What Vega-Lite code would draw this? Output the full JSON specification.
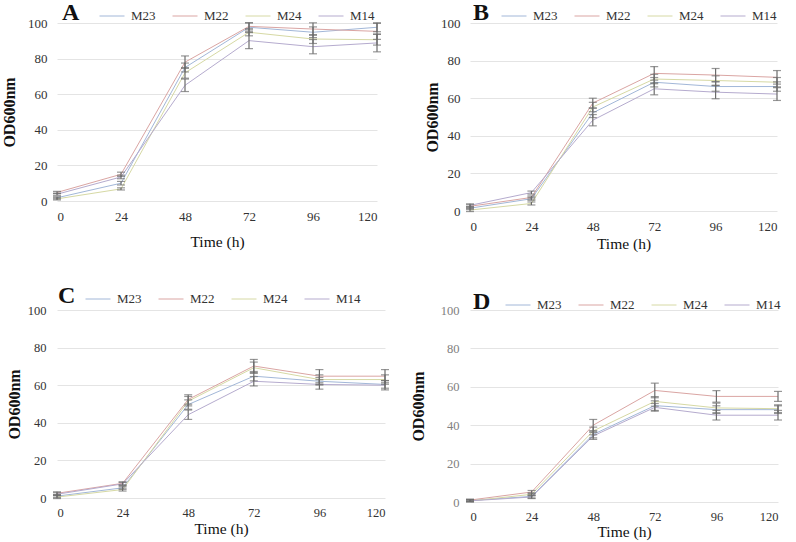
{
  "$schema": "https://vega.github.io/schema/vega-lite/v6.json",
  "padding": {"left": 1, "top": 3, "right": 5, "bottom": 5},
  "background": "white",
  "config": {
    "font": "Liberation Serif",
    "view": {"stroke": null},
    "axis": {"domain": false, "ticks": false, "gridColor": "#e4e4e4", "gridWidth": 1, "labelColor": "#333333", "labelFont": "Liberation Serif", "titleFont": "Liberation Serif", "titleColor": "#111111"},
    "axisX": {"labelFont": "Liberation Serif", "titleFont": "Liberation Serif", "titleFontWeight": "normal", "titleFontSize": 15.5, "gridOpacity": {"condition": {"test": "datum.value === 120", "value": 1}, "value": 0}},
    "axisY": {"labelFont": "Liberation Serif", "titleFont": "Liberation Serif", "titleFontWeight": "bold", "titleFontSize": 16},
    "legend": {"orient": "none", "direction": "horizontal", "columns": 4, "titleOrient": "left", "titleFontSize": 24, "titleFontWeight": "bold", "titleColor": "#111111", "titleFont": "Liberation Serif", "labelFont": "Liberation Serif", "labelFontSize": 13, "labelColor": "#333333", "symbolType": "stroke", "symbolSize": 625, "symbolStrokeWidth": 1, "labelOffset": 6, "columnPadding": 14, "padding": 0}
  },
  "datasets": {
    "growth": [
      {"p":"A","s":"M23","t":0,"od":1.8,"sd":0.6},{"p":"A","s":"M23","t":24,"od":10,"sd":1.0},{"p":"A","s":"M23","t":48,"od":75,"sd":2.5},{"p":"A","s":"M23","t":72,"od":97.6,"sd":2.5},{"p":"A","s":"M23","t":96,"od":94.8,"sd":3},{"p":"A","s":"M23","t":120,"od":97.6,"sd":2.5},
      {"p":"A","s":"M22","t":0,"od":4.8,"sd":0.6},{"p":"A","s":"M22","t":24,"od":15,"sd":1.2},{"p":"A","s":"M22","t":48,"od":78,"sd":3.5},{"p":"A","s":"M22","t":72,"od":98.1,"sd":2},{"p":"A","s":"M22","t":96,"od":96.6,"sd":3.5},{"p":"A","s":"M22","t":120,"od":95.3,"sd":4.5},
      {"p":"A","s":"M24","t":0,"od":1.2,"sd":0.6},{"p":"A","s":"M24","t":24,"od":6.8,"sd":0.6},{"p":"A","s":"M24","t":48,"od":72,"sd":3},{"p":"A","s":"M24","t":72,"od":94.8,"sd":2},{"p":"A","s":"M24","t":96,"od":91,"sd":2.5},{"p":"A","s":"M24","t":120,"od":90.6,"sd":3},
      {"p":"A","s":"M14","t":0,"od":3.8,"sd":0.6},{"p":"A","s":"M14","t":24,"od":13.5,"sd":1.0},{"p":"A","s":"M14","t":48,"od":65,"sd":3.5},{"p":"A","s":"M14","t":72,"od":90.1,"sd":4.5},{"p":"A","s":"M14","t":96,"od":86.7,"sd":4},{"p":"A","s":"M14","t":120,"od":88.8,"sd":5},
      {"p":"B","s":"M23","t":0,"od":1.5,"sd":0.8},{"p":"B","s":"M23","t":24,"od":6.5,"sd":0.8},{"p":"B","s":"M23","t":48,"od":52.2,"sd":2.5},{"p":"B","s":"M23","t":72,"od":68.5,"sd":2.5},{"p":"B","s":"M23","t":96,"od":66.2,"sd":2.5},{"p":"B","s":"M23","t":120,"od":66.2,"sd":2.5},
      {"p":"B","s":"M22","t":0,"od":2.5,"sd":0.8},{"p":"B","s":"M22","t":24,"od":7.2,"sd":0.8},{"p":"B","s":"M22","t":48,"od":57.4,"sd":2.6},{"p":"B","s":"M22","t":72,"od":73.2,"sd":3.6},{"p":"B","s":"M22","t":96,"od":72.3,"sd":3.5},{"p":"B","s":"M22","t":120,"od":71.1,"sd":3.6},
      {"p":"B","s":"M24","t":0,"od":0.5,"sd":0.8},{"p":"B","s":"M24","t":24,"od":4,"sd":0.8},{"p":"B","s":"M24","t":48,"od":55.3,"sd":2.5},{"p":"B","s":"M24","t":72,"od":70.2,"sd":2.5},{"p":"B","s":"M24","t":96,"od":69.4,"sd":2.5},{"p":"B","s":"M24","t":120,"od":68.5,"sd":2.5},
      {"p":"B","s":"M14","t":0,"od":3,"sd":0.8},{"p":"B","s":"M14","t":24,"od":9.8,"sd":0.8},{"p":"B","s":"M14","t":48,"od":48.3,"sd":3},{"p":"B","s":"M14","t":72,"od":65,"sd":3.2},{"p":"B","s":"M14","t":96,"od":63.2,"sd":3.5},{"p":"B","s":"M14","t":120,"od":62.2,"sd":3.4},
      {"p":"C","s":"M23","t":0,"od":1,"sd":0.8},{"p":"C","s":"M23","t":24,"od":5.4,"sd":0.8},{"p":"C","s":"M23","t":48,"od":49.7,"sd":2.5},{"p":"C","s":"M23","t":72,"od":64.8,"sd":2.5},{"p":"C","s":"M23","t":96,"od":62.1,"sd":2},{"p":"C","s":"M23","t":120,"od":60.4,"sd":2},
      {"p":"C","s":"M22","t":0,"od":2.5,"sd":0.8},{"p":"C","s":"M22","t":24,"od":7.8,"sd":0.8},{"p":"C","s":"M22","t":48,"od":52.4,"sd":2.5},{"p":"C","s":"M22","t":72,"od":70.2,"sd":3.5},{"p":"C","s":"M22","t":96,"od":64.8,"sd":3.5},{"p":"C","s":"M22","t":120,"od":64.8,"sd":3.5},
      {"p":"C","s":"M24","t":0,"od":0.5,"sd":0.8},{"p":"C","s":"M24","t":24,"od":4.5,"sd":0.8},{"p":"C","s":"M24","t":48,"od":51.5,"sd":2.5},{"p":"C","s":"M24","t":72,"od":69.3,"sd":3},{"p":"C","s":"M24","t":96,"od":63,"sd":2.5},{"p":"C","s":"M24","t":120,"od":63,"sd":2.5},
      {"p":"C","s":"M14","t":0,"od":2,"sd":0.8},{"p":"C","s":"M14","t":24,"od":7.5,"sd":0.8},{"p":"C","s":"M14","t":48,"od":44.3,"sd":2.5},{"p":"C","s":"M14","t":72,"od":62.1,"sd":2.5},{"p":"C","s":"M14","t":96,"od":60.4,"sd":2.5},{"p":"C","s":"M14","t":120,"od":60,"sd":2.5},
      {"p":"D","s":"M23","t":0,"od":0.8,"sd":0.5},{"p":"D","s":"M23","t":24,"od":2.9,"sd":0.8},{"p":"D","s":"M23","t":48,"od":35.2,"sd":1.8},{"p":"D","s":"M23","t":72,"od":50.2,"sd":2.5},{"p":"D","s":"M23","t":96,"od":48.1,"sd":2},{"p":"D","s":"M23","t":120,"od":48.1,"sd":2},
      {"p":"D","s":"M22","t":0,"od":1,"sd":0.5},{"p":"D","s":"M22","t":24,"od":5.2,"sd":0.8},{"p":"D","s":"M22","t":48,"od":40,"sd":3},{"p":"D","s":"M22","t":72,"od":58.1,"sd":3.8},{"p":"D","s":"M22","t":96,"od":55,"sd":3},{"p":"D","s":"M22","t":120,"od":55,"sd":2.6},
      {"p":"D","s":"M24","t":0,"od":0.5,"sd":0.5},{"p":"D","s":"M24","t":24,"od":4,"sd":0.8},{"p":"D","s":"M24","t":48,"od":37,"sd":2},{"p":"D","s":"M24","t":72,"od":52.4,"sd":2.5},{"p":"D","s":"M24","t":96,"od":49,"sd":2.5},{"p":"D","s":"M24","t":120,"od":48.6,"sd":2},
      {"p":"D","s":"M14","t":0,"od":0.6,"sd":0.5},{"p":"D","s":"M14","t":24,"od":2.6,"sd":0.8},{"p":"D","s":"M14","t":48,"od":34.4,"sd":1.8},{"p":"D","s":"M14","t":72,"od":49.3,"sd":2},{"p":"D","s":"M14","t":96,"od":45.2,"sd":2.5},{"p":"D","s":"M14","t":120,"od":45.2,"sd":2.5}
    ]
  },
  "data": {"name": "growth"},
  "columns": 2,
  "align": "each",
  "spacing": {"row": 34, "column": 21},
  "resolve": {"scale": {"color": "independent", "x": "independent", "y": "independent"}, "legend": {"color": "independent"}},
  "concat": [
    {
      "width": 320, "height": 178,
      "transform": [{"filter": "datum.p === 'A'"}],
      "encoding": {
        "x": {"field": "t", "type": "quantitative", "scale": {"domain": [0, 120]}, "axis": {"values": [0, 24, 48, 72, 96, 120], "title": "Time (h)", "labelFont": "Liberation Serif", "titleFont": "Liberation Serif", "labelFontSize": 13, "labelPadding": 9, "titlePadding": 11}},
        "y": {"field": "od", "type": "quantitative", "scale": {"domain": [0, 100]}, "axis": {"values": [0, 20, 40, 60, 80, 100], "title": "OD600nm", "labelFont": "Liberation Serif", "titleFont": "Liberation Serif", "labelFontSize": 13, "labelPadding": 10, "titlePadding": 10}}
      },
      "layer": [
        {"mark": {"type": "line", "strokeWidth": 1}, "encoding": {"color": {"field": "s", "type": "nominal", "scale": {"domain": ["M23", "M22", "M24", "M14"], "range": ["#a2b7d8", "#daa5a3", "#d6d9a4", "#b5abce"]}, "legend": {"title": "A", "legendX": 5, "legendY": -20, "titlePadding": 19}}}},
        {"mark": {"type": "errorbar", "color": "#6b6b6b", "thickness": 1.2, "ticks": {"size": 8, "color": "#6b6b6b", "strokeWidth": 1.2}}, "encoding": {"yError": {"field": "sd"}}}
      ]
    },
    {
      "width": 307, "height": 188,
      "transform": [{"filter": "datum.p === 'B'"}],
      "encoding": {
        "x": {"field": "t", "type": "quantitative", "scale": {"domain": [0, 120]}, "axis": {"values": [0, 24, 48, 72, 96, 120], "title": "Time (h)", "labelFont": "Liberation Serif", "titleFont": "Liberation Serif", "labelFontSize": 13, "labelPadding": 9, "titlePadding": 3}},
        "y": {"field": "od", "type": "quantitative", "scale": {"domain": [0, 100]}, "axis": {"values": [0, 20, 40, 60, 80, 100], "title": "OD600nm", "labelFont": "Liberation Serif", "titleFont": "Liberation Serif", "labelFontSize": 13, "labelPadding": 10, "titlePadding": 0}}
      },
      "layer": [
        {"mark": {"type": "line", "strokeWidth": 1}, "encoding": {"color": {"field": "s", "type": "nominal", "scale": {"domain": ["M23", "M22", "M24", "M14"], "range": ["#a2b7d8", "#daa5a3", "#d6d9a4", "#b5abce"]}, "legend": {"title": "B", "legendX": 3, "legendY": -20, "titlePadding": 11}}}},
        {"mark": {"type": "errorbar", "color": "#6b6b6b", "thickness": 1.2, "ticks": {"size": 8, "color": "#6b6b6b", "strokeWidth": 1.2}}, "encoding": {"yError": {"field": "sd"}}}
      ]
    },
    {
      "width": 328, "height": 188,
      "transform": [{"filter": "datum.p === 'C'"}],
      "encoding": {
        "x": {"field": "t", "type": "quantitative", "scale": {"domain": [0, 120]}, "axis": {"values": [0, 24, 48, 72, 96, 120], "title": "Time (h)", "labelFont": "Liberation Serif", "titleFont": "Liberation Serif", "labelFontSize": 12.5, "labelPadding": 8, "titlePadding": 3}},
        "y": {"field": "od", "type": "quantitative", "scale": {"domain": [0, 100]}, "axis": {"values": [0, 20, 40, 60, 80, 100], "title": "OD600nm", "labelFont": "Liberation Serif", "titleFont": "Liberation Serif", "labelFontSize": 12.5, "labelPadding": 11, "titlePadding": 5}}
      },
      "layer": [
        {"mark": {"type": "line", "strokeWidth": 1}, "encoding": {"color": {"field": "s", "type": "nominal", "scale": {"domain": ["M23", "M22", "M24", "M14"], "range": ["#a2b7d8", "#daa5a3", "#d6d9a4", "#b5abce"]}, "legend": {"title": "C", "legendX": 1, "legendY": -24, "titlePadding": 9}}}},
        {"mark": {"type": "errorbar", "color": "#6b6b6b", "thickness": 1.2, "ticks": {"size": 8, "color": "#6b6b6b", "strokeWidth": 1.2}}, "encoding": {"yError": {"field": "sd"}}}
      ]
    },
    {
      "width": 308, "height": 192,
      "transform": [{"filter": "datum.p === 'D'"}],
      "encoding": {
        "x": {"field": "t", "type": "quantitative", "scale": {"domain": [0, 120]}, "axis": {"values": [0, 24, 48, 72, 96, 120], "title": "Time (h)", "labelFont": "Liberation Serif", "titleFont": "Liberation Serif", "labelFontSize": 12.5, "labelPadding": 8, "titlePadding": 2}},
        "y": {"field": "od", "type": "quantitative", "scale": {"domain": [0, 100]}, "axis": {"values": [0, 20, 40, 60, 80, 100], "title": "OD600nm", "labelFont": "Liberation Serif", "titleFont": "Liberation Serif", "labelFontSize": 12.5, "labelPadding": 11, "titlePadding": 14, "labelColor": "#808080"}}
      },
      "layer": [
        {"mark": {"type": "line", "strokeWidth": 1}, "encoding": {"color": {"field": "s", "type": "nominal", "scale": {"domain": ["M23", "M22", "M24", "M14"], "range": ["#a2b7d8", "#daa5a3", "#d6d9a4", "#b5abce"]}, "legend": {"title": "D", "legendX": 3, "legendY": -18, "titlePadding": 14}}}},
        {"mark": {"type": "errorbar", "color": "#6b6b6b", "thickness": 1.2, "ticks": {"size": 8, "color": "#6b6b6b", "strokeWidth": 1.2}}, "encoding": {"yError": {"field": "sd"}}}
      ]
    }
  ]
}
